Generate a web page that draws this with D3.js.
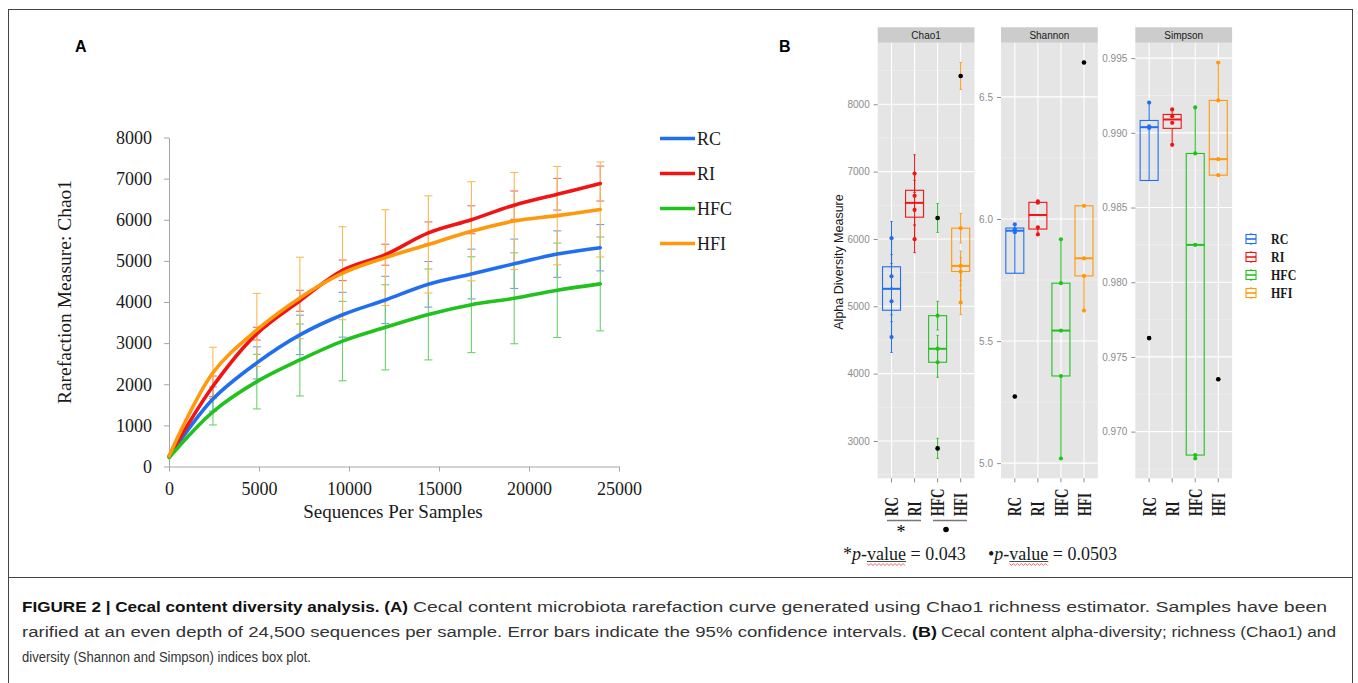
<!DOCTYPE html>
<html>
<head>
<meta charset="utf-8">
<script src="https://cdn.jsdelivr.net/npm/d3@7"></script>
<style>
  body { margin: 0; background: #fff; }
  svg { display: block; }
</style>
</head>
<body>
<div id="chart"></div>
<script>
// Groups shared by both panels
const groups = ["RC", "RI", "HFC", "HFI"];
const groupColors = ["#1f6ff0", "#f01414", "#22c21e", "#ff980a"];
const barColors = ["#6f9fe6", "#ee6a6a", "#6fd06a", "#f7bb55"];

// Panel A: rarefaction curves (mean and 95% CI half-width)
const seqDepth = [10, 2440, 4880, 7270, 9640, 12020, 14410, 16800, 19180, 21570, 23960];
const rcMean  = [240, 1640, 2520, 3200, 3690, 4050, 4430, 4680, 4930, 5165, 5320];
const rcCi    = [0, 295, 390, 480, 545, 575, 555, 605, 600, 565, 563];
const riMean  = [250, 1950, 3230, 4030, 4770, 5150, 5680, 6000, 6355, 6620, 6880];
const riCi    = [0, 250, 155, 255, 250, 255, 267, 340, 344, 385, 425];
const hfcMean = [220, 1330, 2064, 2590, 3050, 3384, 3697, 3935, 4090, 4285, 4440];
const hfcCi   = [0, 320, 664, 875, 965, 1035, 1105, 1165, 1105, 1148, 1141];
const hfiMean = [260, 2280, 3320, 4100, 4700, 5080, 5400, 5720, 5970, 6100, 6250];
const hfiCi   = [0, 620, 890, 990, 1130, 1165, 1180, 1205, 1180, 1195, 1155];
const xTicksA = [0, 5000, 10000, 15000, 20000, 25000];
const yTicksA = [0, 1000, 2000, 3000, 4000, 5000, 6000, 7000, 8000];

// Panel B: alpha diversity per sample, one array per group (RC, RI, HFC, HFI)
const metrics = ["Chao1", "Shannon", "Simpson"];
const chao1Values = [[6012, 5445, 5074, 4543], [6970, 6640, 6432, 5997],
                     [6312, 4861, 4369, 4169, 2890], [8420, 6160, 5600, 5516, 5056]];
const chao1Se = [[246, 190, 200, 228], [280, 230, 220, 200],
                 [215, 213, 200, 224, 150], [200, 220, 220, 210, 180]];
const shannonValues = [[5.978, 5.958, 5.946, 5.273], [6.072, 6.067, 5.966, 5.937],
                       [5.917, 5.737, 5.543, 5.357, 5.019], [6.641, 6.054, 5.839, 5.767, 5.625]];
const simpsonValues = [[0.99203, 0.99043, 0.99033, 0.97626], [0.99157, 0.99112, 0.99067, 0.98920],
                       [0.99170, 0.98862, 0.98250, 0.96843, 0.96820], [0.99471, 0.99217, 0.98824, 0.98717, 0.97351]];
const chao1Ticks = [3000, 4000, 5000, 6000, 7000, 8000];
const shannonTicks = [5.0, 5.5, 6.0, 6.5];
const simpsonTicks = [0.970, 0.975, 0.980, 0.985, 0.990, 0.995];

const serif = "'Liberation Serif', 'Times New Roman', serif";
const sans = "'Liberation Sans', Arial, sans-serif";

const width = 1358, height = 683;
const svg = d3.select("#chart").append("svg")
    .attr("width", width)
    .attr("height", height);

svg.append("rect").attr("width", width).attr("height", height).attr("fill", "#fff");

// figure frame
svg.append("rect")
    .attr("x", 8.5).attr("y", 9.5)
    .attr("width", 1344).attr("height", 700)
    .attr("fill", "none").attr("stroke", "#444").attr("stroke-width", 1);
svg.append("line")
    .attr("x1", 8.5).attr("x2", 1352.5).attr("y1", 577.5).attr("y2", 577.5)
    .attr("stroke", "#444");

// panel letters
svg.append("text").attr("x", 75).attr("y", 52).text("A")
    .attr("font-family", sans).attr("font-weight", "bold").attr("font-size", 16);
svg.append("text").attr("x", 779).attr("y", 52).text("B")
    .attr("font-family", sans).attr("font-weight", "bold").attr("font-size", 16);

// ---------------- Panel A ----------------
const gA = svg.append("g");
const xA = d3.scaleLinear().domain([0, 25000]).range([169, 619]);
const yA = d3.scaleLinear().domain([0, 8000]).range([466.5, 137.5]);

function styleAxisA(g) {
  g.select(".domain").attr("stroke", "#a6a6a6");
  g.selectAll(".tick line").attr("stroke", "#a6a6a6");
  g.selectAll(".tick text").attr("font-family", serif).attr("font-size", 18).attr("fill", "#1a1a1a");
}

gA.append("g")
    .attr("transform", "translate(0,466.5)")
    .call(d3.axisBottom(xA).tickValues(xTicksA).tickSize(5).tickSizeOuter(0).tickPadding(11).tickFormat(d3.format("d")))
    .call(styleAxisA);

gA.append("g")
    .attr("transform", "translate(169,0)")
    .call(d3.axisLeft(yA).tickValues(yTicksA).tickSize(5).tickSizeOuter(0).tickPadding(12).tickFormat(d3.format("d")))
    .call(styleAxisA);

gA.append("text")
    .attr("transform", "translate(71,292) rotate(-90)")
    .attr("text-anchor", "middle")
    .attr("font-family", serif).attr("font-size", 19.5).attr("fill", "#1a1a1a")
    .text("Rarefaction Measure: Chao1");

gA.append("text")
    .attr("x", 393).attr("y", 518)
    .attr("text-anchor", "middle")
    .attr("font-family", serif).attr("font-size", 19).attr("fill", "#1a1a1a")
    .text("Sequences Per Samples");

const seriesA = [
  { mean: rcMean, ci: rcCi },
  { mean: riMean, ci: riCi },
  { mean: hfcMean, ci: hfcCi },
  { mean: hfiMean, ci: hfiCi }
];

// error bars
seriesA.forEach((s, k) => {
  const g = gA.append("g").attr("stroke", barColors[k]).attr("stroke-width", 1.1);
  s.mean.forEach((m, i) => {
    if (!s.ci[i]) return;
    const x = xA(seqDepth[i]);
    const y0 = yA(m - s.ci[i]), y1 = yA(m + s.ci[i]);
    g.append("line").attr("x1", x).attr("x2", x).attr("y1", y0).attr("y2", y1);
    g.append("line").attr("x1", x - 4).attr("x2", x + 4).attr("y1", y0).attr("y2", y0);
    g.append("line").attr("x1", x - 4).attr("x2", x + 4).attr("y1", y1).attr("y2", y1);
  });
});

const lineA = d3.line()
    .x((d, i) => xA(seqDepth[i]))
    .y(d => yA(d))
    .curve(d3.curveCatmullRom.alpha(0.5));

seriesA.forEach((s, k) => {
  gA.append("path")
      .attr("d", lineA(s.mean))
      .attr("fill", "none")
      .attr("stroke", groupColors[k])
      .attr("stroke-width", 3.6)
      .attr("stroke-linecap", "round");
});

// legend A
const legA = gA.append("g");
groups.forEach((name, k) => {
  const y = 138.5 + k * 35;
  legA.append("line").attr("x1", 660).attr("x2", 695).attr("y1", y).attr("y2", y)
      .attr("stroke", groupColors[k]).attr("stroke-width", 3.6);
  legA.append("text").attr("x", 697).attr("y", y).attr("dy", "0.35em")
      .attr("font-family", serif).attr("font-size", 18).attr("fill", "#1a1a1a")
      .text(name);
});

// ---------------- Panel B ----------------
const gB = svg.append("g");
const panelTop = 42.7, panelBottom = 478.3, stripTop = 27.3;
const panelW = 96.8;
const panelLeft = [877.7, 1001, 1135.3];

function boxStats(vals) {
  const s = vals.slice().sort(d3.ascending);
  const q1 = d3.quantile(s, 0.25), med = d3.quantile(s, 0.5), q3 = d3.quantile(s, 0.75);
  const iqr = q3 - q1;
  const inside = s.filter(v => v >= q1 - 1.5 * iqr && v <= q3 + 1.5 * iqr);
  return {
    q1, med, q3,
    lo: d3.min(inside), hi: d3.max(inside),
    outliers: s.filter(v => v < q1 - 1.5 * iqr || v > q3 + 1.5 * iqr)
  };
}

function drawPanel(p, name, values, se, ticks, fmt) {
  const x0 = panelLeft[p], x1 = x0 + panelW;
  const g = gB.append("g");

  // y extent over values (and error bars), expanded 5% like ggplot
  const lows = values.flatMap((arr, k) => arr.map((v, i) => v - (se ? se[k][i] : 0)));
  const highs = values.flatMap((arr, k) => arr.map((v, i) => v + (se ? se[k][i] : 0)));
  const lo = d3.min(lows), hi = d3.max(highs), pad = (hi - lo) * 0.05;
  const y = d3.scaleLinear().domain([lo - pad, hi + pad]).range([panelBottom, panelTop]);
  const x = d3.scaleLinear().domain([0.4, 4.6]).range([x0, x1]);
  const unit = x(1) - x(0);

  g.append("rect").attr("x", x0).attr("y", panelTop).attr("width", panelW)
      .attr("height", panelBottom - panelTop).attr("fill", "#e5e5e5");

  // minor grid
  const step = ticks[1] - ticks[0];
  const minors = [ticks[0] - step / 2].concat(ticks.map(t => t + step / 2))
      .filter(v => v > y.domain()[0] && v < y.domain()[1]);
  minors.forEach(v => {
    g.append("line").attr("x1", x0).attr("x2", x1).attr("y1", y(v)).attr("y2", y(v))
        .attr("stroke", "#f2f2f2").attr("stroke-width", 0.6);
  });
  ticks.forEach(v => {
    g.append("line").attr("x1", x0).attr("x2", x1).attr("y1", y(v)).attr("y2", y(v))
        .attr("stroke", "#fff").attr("stroke-width", 1.1);
  });
  groups.forEach((gr, k) => {
    g.append("line").attr("x1", x(k + 1)).attr("x2", x(k + 1))
        .attr("y1", panelTop).attr("y2", panelBottom)
        .attr("stroke", "#fff").attr("stroke-width", 1.1);
  });

  // strip
  g.append("rect").attr("x", x0).attr("y", stripTop).attr("width", panelW)
      .attr("height", panelTop - stripTop).attr("fill", "#cccccc");
  g.append("text").attr("x", (x0 + x1) / 2).attr("y", (stripTop + panelTop) / 2)
      .attr("dy", "0.35em").attr("text-anchor", "middle")
      .attr("font-family", sans).attr("font-size", 10).attr("fill", "#1a1a1a")
      .text(name);

  // y axis
  const ax = g.append("g").attr("transform", `translate(${x0},0)`)
      .call(d3.axisLeft(y).tickValues(ticks).tickSize(4).tickPadding(4).tickFormat(fmt));
  ax.select(".domain").remove();
  ax.selectAll(".tick line").attr("stroke", "#8c8c8c");
  ax.selectAll(".tick text").attr("font-family", sans).attr("font-size", 10).attr("fill", "#8c8c8c");

  // x ticks
  groups.forEach((gr, k) => {
    g.append("line").attr("x1", x(k + 1)).attr("x2", x(k + 1))
        .attr("y1", panelBottom).attr("y2", panelBottom + 4)
        .attr("stroke", "#8c8c8c");
    g.append("text")
        .attr("transform", `translate(${x(k + 1)},516) rotate(-90) scale(1,1.45)`)
        .attr("dy", "0.35em")
        .attr("font-family", serif).attr("font-weight", "bold").attr("font-size", 13)
        .attr("fill", "#1a1a1a")
        .text(gr);
  });

  // points
  values.forEach((arr, k) => {
    arr.forEach((v, i) => {
      g.append("circle").attr("cx", x(k + 1)).attr("cy", y(v)).attr("r", 2.1)
          .attr("fill", groupColors[k]);
    });
  });

  // error bars (Chao1 only)
  if (se) {
    values.forEach((arr, k) => {
      arr.forEach((v, i) => {
        const cx = x(k + 1), ya = y(v - se[k][i]), yb = y(v + se[k][i]), hw = unit * 0.05;
        g.append("path")
            .attr("d", `M${cx - hw},${ya}H${cx + hw}M${cx},${ya}V${yb}M${cx - hw},${yb}H${cx + hw}`)
            .attr("stroke", groupColors[k]).attr("stroke-width", 1).attr("fill", "none");
      });
    });
  }

  // boxplots
  values.forEach((arr, k) => {
    const st = boxStats(arr);
    const cx = x(k + 1), hw = 9;
    const col = groupColors[k];
    g.append("line").attr("x1", cx).attr("x2", cx).attr("y1", y(st.q3)).attr("y2", y(st.hi))
        .attr("stroke", col).attr("stroke-width", 1.1);
    g.append("line").attr("x1", cx).attr("x2", cx).attr("y1", y(st.q1)).attr("y2", y(st.lo))
        .attr("stroke", col).attr("stroke-width", 1.1);
    g.append("rect").attr("x", cx - hw).attr("y", y(st.q3))
        .attr("width", hw * 2).attr("height", y(st.q1) - y(st.q3))
        .attr("fill", "none").attr("stroke", col).attr("stroke-width", 1.1);
    g.append("line").attr("x1", cx - hw).attr("x2", cx + hw).attr("y1", y(st.med)).attr("y2", y(st.med))
        .attr("stroke", col).attr("stroke-width", 2);
    st.outliers.forEach(v => {
      g.append("circle").attr("cx", cx).attr("cy", y(v)).attr("r", 2.3).attr("fill", "#000");
    });
  });
}

drawPanel(0, metrics[0], chao1Values, chao1Se, chao1Ticks, d3.format("d"));
drawPanel(1, metrics[1], shannonValues, null, shannonTicks, d3.format(".1f"));
drawPanel(2, metrics[2], simpsonValues, null, simpsonTicks, d3.format(".3f"));

// y title
gB.append("text")
    .attr("transform", "translate(839,262) rotate(-90)")
    .attr("dy", "0.35em")
    .attr("text-anchor", "middle")
    .attr("font-family", sans).attr("font-size", 12.5).attr("fill", "#1a1a1a")
    .text("Alpha Diversity Measure");

// significance marks under Chao1
gB.append("line").attr("x1", 887).attr("x2", 921).attr("y1", 520.5).attr("y2", 520.5)
    .attr("stroke", "#777").attr("stroke-width", 1.5);
gB.append("line").attr("x1", 933).attr("x2", 967).attr("y1", 520.5).attr("y2", 520.5)
    .attr("stroke", "#777").attr("stroke-width", 1.5);
gB.append("text").attr("x", 901).attr("y", 538).attr("text-anchor", "middle")
    .attr("font-family", serif).attr("font-size", 18).text("*");
gB.append("circle").attr("cx", 946).attr("cy", 529.5).attr("r", 2.8).attr("fill", "#000");

// p-value notes
function pValue(xStart, mark, value) {
  const t = gB.append("text").attr("x", xStart).attr("y", 560)
      .attr("font-family", serif).attr("font-size", 18).attr("fill", "#1a1a1a");
  t.append("tspan").text(mark);
  t.append("tspan").attr("font-style", "italic").text("p");
  t.append("tspan").text("-");
  const v = t.append("tspan").text("value");
  t.append("tspan").text(" = " + value);
  const bb = v.node().getComputedTextLength();
  const vx = xStart + t.node().getSubStringLength(0, mark.length + 2);
  gB.append("line").attr("x1", vx).attr("x2", vx + bb).attr("y1", 561.5).attr("y2", 561.5)
      .attr("stroke", "#1a1a1a").attr("stroke-width", 0.8);
  const wave = d3.range(0, Math.floor(bb / 2) + 1)
      .map(i => [vx + i * 2, 564.5 + (i % 2 ? 1 : -1)]);
  gB.append("path").attr("d", d3.line()(wave))
      .attr("fill", "none").attr("stroke", "#e23b3b").attr("stroke-width", 0.8);
}
pValue(843, "*", "0.043");
pValue(988, "\u2022", "0.0503");

// legend B
groups.forEach((name, k) => {
  const cy = 239 + k * 18;
  const col = groupColors[k];
  const lg = gB.append("g");
  lg.append("line").attr("x1", 1251).attr("x2", 1251).attr("y1", cy - 6).attr("y2", cy + 6)
      .attr("stroke", col).attr("stroke-width", 1.1);
  lg.append("rect").attr("x", 1246).attr("y", cy - 4.5).attr("width", 10).attr("height", 9)
      .attr("fill", "#fff").attr("stroke", col).attr("stroke-width", 1.1);
  lg.append("line").attr("x1", 1246).attr("x2", 1256).attr("y1", cy).attr("y2", cy)
      .attr("stroke", col).attr("stroke-width", 1.6);
  lg.append("text").attr("transform", `translate(1271,${cy}) scale(1,1.3)`)
      .attr("dy", "0.35em")
      .attr("font-family", serif).attr("font-weight", "bold").attr("font-size", 12)
      .attr("fill", "#1a1a1a").text(name);
});

// ---------------- Caption ----------------
// each segment: text, bold, x start, x end
const captionLines = [
  { y: 611.5, parts: [
      ["FIGURE 2 | Cecal content diversity analysis. (A)", true, 22, 408],
      ["Cecal content microbiota rarefaction curve generated using Chao1 richness estimator. Samples have been", false, 413, 1327]] },
  { y: 636.5, parts: [
      ["rarified at an even depth of 24,500 sequences per sample. Error bars indicate the 95% confidence intervals.", false, 22, 907],
      ["(B)", true, 912, 937],
      ["Cecal content alpha-diversity; richness (Chao1) and", false, 941, 1336]] },
  { y: 661.5, parts: [
      ["diversity (Shannon and Simpson) indices box plot.", false, 22, 311]] }
];
captionLines.forEach(line => {
  line.parts.forEach(([txt, bold, xs, xe]) => {
    svg.append("text").attr("x", xs).attr("y", line.y)
        .attr("font-family", sans).attr("font-size", 14)
        .attr("font-weight", bold ? "bold" : null)
        .attr("fill", bold ? "#111" : "#333")
        .attr("textLength", xe - xs).attr("lengthAdjust", "spacingAndGlyphs")
        .text(txt);
  });
});
</script>
</body>
</html>
